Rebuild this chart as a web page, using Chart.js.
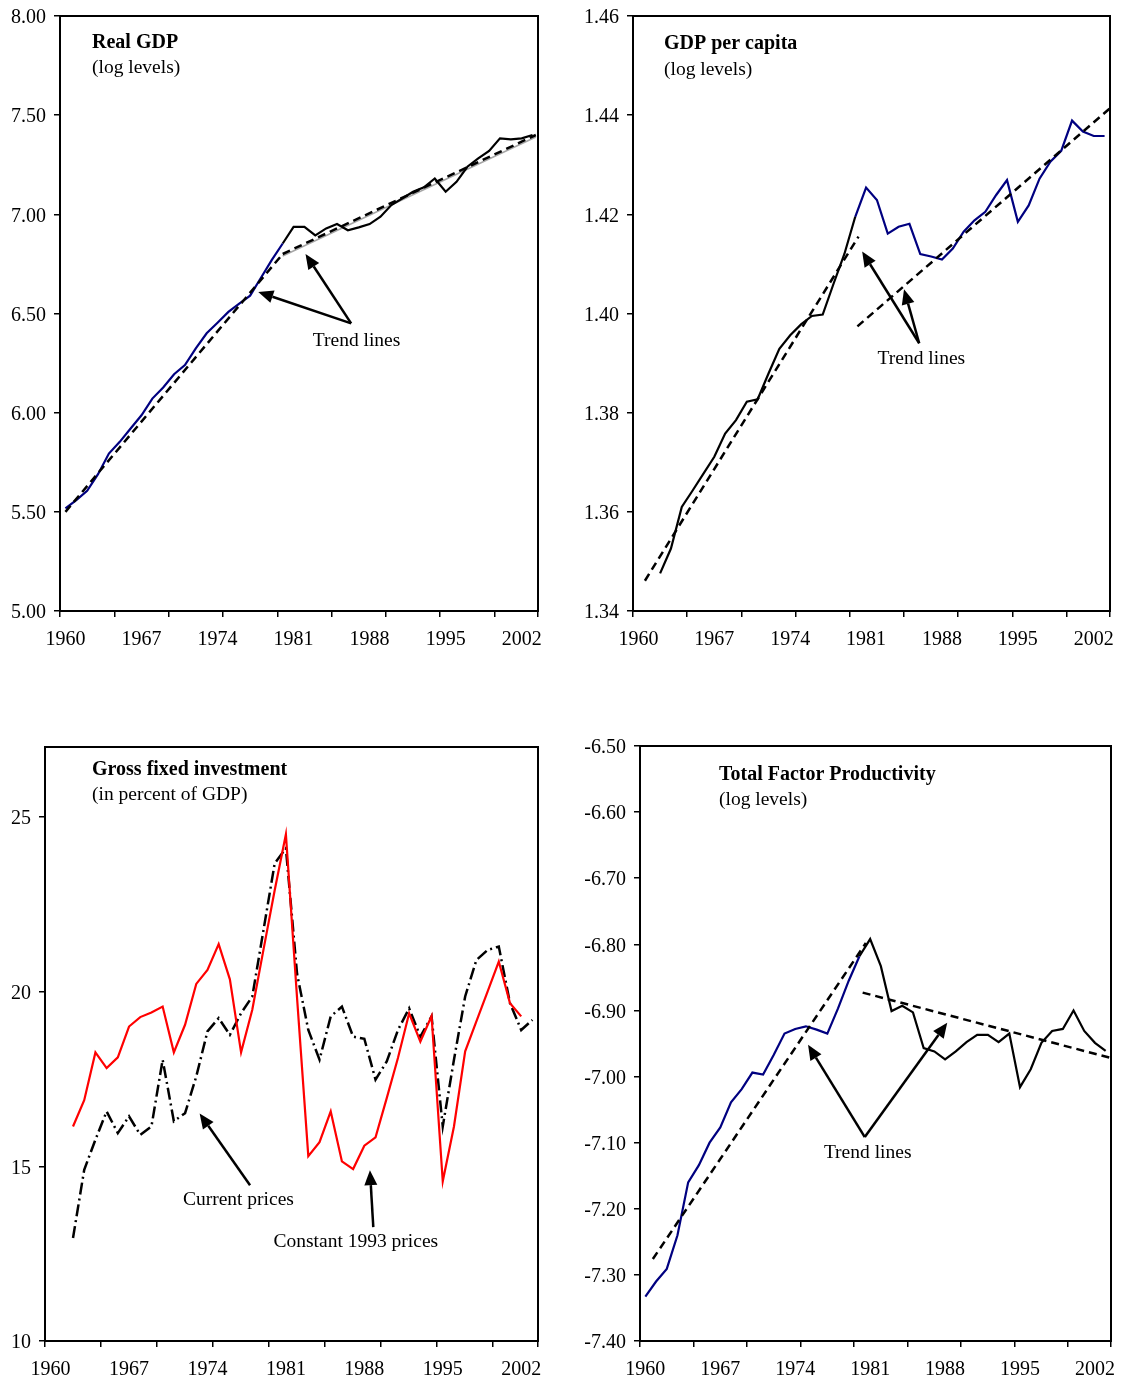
<!DOCTYPE html>
<html>
<head>
    <meta charset="UTF-8">
    <title>Growth, investment and productivity</title>
    <script src="https://cdn.jsdelivr.net/npm/chart.js@4.4.1/dist/chart.umd.min.js"></script>
    <style>
        body { margin: 0; background: #fff; }
        .panel { position: absolute; }
    </style>
</head>
<body>
<div class="panel" style="left:0;top:-4px"><canvas id="gdpChart" width="550" height="684"></canvas></div>
<div class="panel" style="left:570px;top:-4px"><canvas id="perCapitaChart" width="552" height="684"></canvas></div>
<div class="panel" style="left:0;top:700px"><canvas id="investChart" width="550" height="685"></canvas></div>
<div class="panel" style="left:570px;top:700px"><canvas id="tfpChart" width="552" height="685"></canvas></div>

<script>
    // Years on the horizontal axis and the years that carry a label
    const years = [1960, 1961, 1962, 1963, 1964, 1965, 1966, 1967, 1968, 1969,
        1970, 1971, 1972, 1973, 1974, 1975, 1976, 1977, 1978, 1979,
        1980, 1981, 1982, 1983, 1984, 1985, 1986, 1987, 1988, 1989,
        1990, 1991, 1992, 1993, 1994, 1995, 1996, 1997, 1998, 1999,
        2000, 2001, 2002, 2003];
    const xLabelYears = [1960, 1967, 1974, 1981, 1988, 1995, 2002];
    const breakYear = 1980;

    // Real GDP (log levels)
    const realGdp = [5.517, 5.559, 5.606, 5.69, 5.794, 5.853, 5.92, 5.987, 6.071, 6.127,
        6.194, 6.24, 6.324, 6.40, 6.453, 6.508, 6.55, 6.59, 6.68, 6.77,
        6.853, 6.937, 6.937, 6.894, 6.929, 6.951, 6.92, 6.934, 6.951, 6.988,
        7.047, 7.08, 7.114, 7.136, 7.181, 7.114, 7.164, 7.24, 7.282, 7.32,
        7.383, 7.378, 7.383, 7.40];
    const gdpTrendYears1 = [1960, 1980];
    const gdpTrend1 = [5.50, 6.80];
    const gdpTrendYears2 = [1980, 2003.3];
    const gdpTrend2 = [6.80, 7.40];
    const gdpFitYears = [1980, 2003.3];
    const gdpFit = [6.79, 7.39];
    const gdpTicks = [5.00, 5.50, 6.00, 6.50, 7.00, 7.50, 8.00];

    // GDP per capita (log levels)
    const gdpPerCapita = [null, null, 1.3476, 1.3526, 1.3610, 1.3643, 1.3677, 1.3711, 1.3758, 1.3785,
        1.3822, 1.3827, 1.3879, 1.3929, 1.3956, 1.3978, 1.3995, 1.3998, 1.406, 1.412,
        1.4195, 1.4254, 1.4229, 1.4161, 1.4175, 1.4181, 1.4120, 1.4115, 1.4109, 1.4131,
        1.4165, 1.4188, 1.4205, 1.4239, 1.4269, 1.4185, 1.4218, 1.4272, 1.4306, 1.4328,
        1.4389, 1.4367, 1.4358, 1.4358];
    const pcTrendYears1 = [1960.6, 1980.3];
    const pcTrend1 = [1.3461, 1.4155];
    const pcTrendYears2 = [1980.2, 2003.5];
    const pcTrend2 = [1.3974, 1.4414];
    const pcTicks = [1.34, 1.36, 1.38, 1.40, 1.42, 1.44, 1.46];

    // Gross fixed investment (in percent of GDP)
    const investConstant = [null, null, 16.14, 16.89, 18.26, 17.81, 18.12, 19.0, 19.27, 19.40,
        19.57, 18.26, 19.05, 20.22, 20.62, 21.36, 20.35, 18.26, 19.48, 21.2,
        22.9, 24.5, 19.8, 15.29, 15.69, 16.57, 15.14, 14.92, 15.59, 15.83,
        16.95, 18.1, 19.38, 18.57, 19.30, 14.57, 16.14, 18.29, 19.15, 20.0,
        20.86, 19.67, 19.29, null];
    const investCurrent = [null, null, 12.95, 14.9, 15.76, 16.57, 15.95, 16.43, 15.90, 16.14,
        18.05, 16.29, 16.52, 17.57, 18.86, 19.24, 18.76, 19.38, 19.86, 21.76,
        23.67, 24.1, 20.5, 18.9, 18.05, 19.29, 19.57, 18.71, 18.65, 17.48,
        18.0, 18.9, 19.52, 18.71, 19.29, 16.14, 18.05, 19.86, 20.9, 21.19,
        21.29, 19.67, 18.9, 19.19];
    const investTicks = [10, 15, 20, 25];

    // Total factor productivity (log levels)
    const tfp = [-7.333, -7.310, -7.291, -7.240, -7.160, -7.134, -7.100, -7.077, -7.039, -7.019,
        -6.994, -6.997, -6.967, -6.935, -6.928, -6.924, -6.929, -6.935, -6.897, -6.855,
        -6.818, -6.792, -6.833, -6.901, -6.893, -6.903, -6.957, -6.962, -6.974, -6.962,
        -6.948, -6.937, -6.937, -6.948, -6.935, -7.016, -6.989, -6.949, -6.931, -6.928,
        -6.900, -6.931, -6.949, -6.961];
    const tfpTrendYears1 = [1960.7, 1980.6];
    const tfpTrend1 = [-7.276, -6.798];
    const tfpTrendYears2 = [1980.3, 2003.5];
    const tfpTrend2 = [-6.873, -6.972];
    const tfpTicks = [-7.40, -7.30, -7.20, -7.10, -7.00, -6.90, -6.80, -6.70, -6.60, -6.50];

    const BLUE = '#000080';
    const RED = '#ff0000';
    const FONT = '"Liberation Serif", "Times New Roman", serif';
    const TEXT_SHIFT = 2; // middle baseline sits a little high in this font

    Chart.defaults.font.family = FONT;
    Chart.defaults.font.size = 20;
    Chart.defaults.color = '#000';

    // tick marks sit on the category boundaries every five years
    const xMarks = [];
    for (let b = years[0] - 0.5; b <= years[years.length - 1] + 0.5; b += 5) xMarks.push(b);
    xMarks.push(years[years.length - 1] + 0.5);

    function points(xs, ys, from, to) {
        const out = [];
        xs.forEach((x, i) => {
            if (ys[i] === null) return;
            if (from !== undefined && (x < from || x > to)) return;
            out.push({ x: x, y: ys[i] });
        });
        return out;
    }

    function line(data, color, extra) {
        return Object.assign({
            data: data, borderColor: color, borderWidth: 2.2,
            pointRadius: 0, tension: 0, fill: false
        }, extra || {});
    }

    function drawArrow(ctx, x1, y1, x2, y2) {
        const ang = Math.atan2(y2 - y1, x2 - x1);
        const len = 15, half = 6.5;
        const bx = x2 - len * Math.cos(ang), by = y2 - len * Math.sin(ang);
        ctx.lineWidth = 2.5;
        ctx.beginPath();
        ctx.moveTo(x1, y1);
        ctx.lineTo(bx, by);
        ctx.stroke();
        ctx.beginPath();
        ctx.moveTo(x2, y2);
        ctx.lineTo(bx + half * Math.sin(ang), by - half * Math.cos(ang));
        ctx.lineTo(bx - half * Math.sin(ang), by + half * Math.cos(ang));
        ctx.closePath();
        ctx.fill();
    }

    // frame, panel title and the arrow notes
    function panelDecor(note) {
        return {
            id: 'panelDecor',
            afterDraw(chart) {
                const ctx = chart.ctx, a = chart.chartArea;
                const sx = chart.scales.x, sy = chart.scales.y;
                ctx.save();
                ctx.strokeStyle = '#000';
                ctx.fillStyle = '#000';
                ctx.lineWidth = 2;
                ctx.strokeRect(a.left, a.top, a.right - a.left, a.bottom - a.top);

                ctx.textBaseline = 'middle';
                ctx.textAlign = 'left';
                ctx.font = 'bold 20px ' + FONT;
                ctx.fillText(note.title, a.left + note.dx, a.top + note.dy + TEXT_SHIFT);
                ctx.font = '19.5px ' + FONT;
                ctx.fillText(note.subtitle, a.left + note.dx, a.top + note.subDy + TEXT_SHIFT);

                ctx.textAlign = 'center';
                note.labels.forEach(l => {
                    ctx.fillText(l.text, sx.getPixelForValue(l.at[0]), sy.getPixelForValue(l.at[1]) + TEXT_SHIFT);
                });
                note.arrows.forEach(ar => {
                    drawArrow(ctx,
                        sx.getPixelForValue(ar.from[0]), sy.getPixelForValue(ar.from[1]),
                        sx.getPixelForValue(ar.to[0]), sy.getPixelForValue(ar.to[1]));
                });
                ctx.restore();
            }
        };
    }

    function buildChart(id, cfg) {
        return new Chart(document.getElementById(id), {
            type: 'line',
            data: { datasets: cfg.datasets },
            options: {
                responsive: false,
                animation: false,
                events: [],
                layout: { padding: { left: 0, top: cfg.top, right: cfg.right, bottom: 0 } },
                plugins: { legend: { display: false }, tooltip: { enabled: false } },
                scales: {
                    x: {
                        type: 'linear',
                        min: years[0] - 0.5,
                        max: years[years.length - 1] + 0.5,
                        afterBuildTicks: s => {
                            s.ticks = xMarks.concat(xLabelYears).sort((p, q) => p - q).map(v => ({ value: v }));
                        },
                        afterFit: s => { s.height = cfg.xHeight; },
                        border: { display: false },
                        grid: {
                            drawOnChartArea: false,
                            tickLength: 6,
                            lineWidth: 1.5,
                            tickColor: c => (c.tick && Number.isInteger(c.tick.value)) ? 'rgba(0,0,0,0)' : '#000'
                        },
                        ticks: {
                            autoSkip: false,
                            maxRotation: 0,
                            padding: 11,
                            callback: v => Number.isInteger(v) ? String(v) : ''
                        }
                    },
                    y: {
                        type: 'linear',
                        min: cfg.yTicks[0],
                        max: cfg.yMax,
                        afterBuildTicks: s => { s.ticks = cfg.yTicks.map(v => ({ value: v })); },
                        afterFit: s => { s.width = cfg.yWidth; },
                        border: { display: false },
                        grid: { drawOnChartArea: false, tickLength: 6, lineWidth: 1.5, tickColor: '#000' },
                        ticks: { padding: 8, labelOffset: TEXT_SHIFT, callback: v => v.toFixed(cfg.digits) }
                    }
                }
            },
            plugins: [panelDecor(cfg.note)]
        });
    }

    const dashed = { borderDash: [8, 5], borderWidth: 2.5, borderColor: '#000' };

    buildChart('gdpChart', {
        top: 20, right: 12, xHeight: 69, yWidth: 60,
        yTicks: gdpTicks, yMax: 8, digits: 2,
        datasets: [
            line(points(gdpTrendYears1, gdpTrend1), '#000', dashed),
            line(points(gdpTrendYears2, gdpTrend2), '#000', dashed),
            line(points(years, realGdp, 1960, breakYear), BLUE),
            line(points(years, realGdp, breakYear, 2003), '#000'),
            line(points(gdpFitYears, gdpFit), '#a6a6a6', { borderWidth: 1.5 })
        ],
        note: {
            title: 'Real GDP', subtitle: '(log levels)', dx: 32, dy: 25, subDy: 50,
            labels: [{ text: 'Trend lines', at: [1986.8, 6.371] }],
            arrows: [
                { from: [1986.3, 6.45], to: [1977.75, 6.609] },
                { from: [1986.3, 6.45], to: [1982.1, 6.80] }
            ]
        }
    });

    buildChart('perCapitaChart', {
        top: 20, right: 12, xHeight: 69, yWidth: 63,
        yTicks: pcTicks, yMax: 1.46, digits: 2,
        datasets: [
            line(points(pcTrendYears1, pcTrend1), '#000', dashed),
            line(points(pcTrendYears2, pcTrend2), '#000', dashed),
            line(points(years, gdpPerCapita, 1960, breakYear), '#000'),
            line(points(years, gdpPerCapita, breakYear, 2003), BLUE)
        ],
        note: {
            title: 'GDP per capita', subtitle: '(log levels)', dx: 31, dy: 26, subDy: 52,
            labels: [{ text: 'Trend lines', at: [1986.1, 1.3912] }],
            arrows: [
                { from: [1985.9, 1.394], to: [1980.64, 1.4125] },
                { from: [1985.9, 1.394], to: [1984.5, 1.4049] }
            ]
        }
    });

    buildChart('investChart', {
        top: 47, right: 12, xHeight: 44, yWidth: 45,
        yTicks: investTicks, yMax: 27, digits: 0,
        datasets: [
            line(points(years, investConstant), RED),
            line(points(years, investCurrent), '#000', { borderDash: [12, 4, 2, 4], borderWidth: 2.5 })
        ],
        note: {
            title: 'Gross fixed investment', subtitle: '(in percent of GDP)', dx: 47, dy: 21, subDy: 46,
            labels: [
                { text: 'Current prices', at: [1976.76, 14.11] },
                { text: 'Constant 1993 prices', at: [1987.24, 12.886] }
            ],
            arrows: [
                { from: [1977.8, 14.46], to: [1973.3, 16.51] },
                { from: [1988.8, 13.26], to: [1988.5, 14.89] }
            ]
        }
    });

    buildChart('tfpChart', {
        top: 46, right: 10, xHeight: 44, yWidth: 70,
        yTicks: tfpTicks, yMax: -6.5, digits: 2,
        datasets: [
            line(points(tfpTrendYears1, tfpTrend1), '#000', dashed),
            line(points(tfpTrendYears2, tfpTrend2), '#000', dashed),
            line(points(years, tfp, 1960, breakYear), BLUE),
            line(points(years, tfp, breakYear, 2003), '#000')
        ],
        note: {
            title: 'Total Factor Productivity', subtitle: '(log levels)', dx: 79, dy: 27, subDy: 52,
            labels: [{ text: 'Trend lines', at: [1980.77, -7.1127] }],
            arrows: [
                { from: [1980.5, -7.0915], to: [1975.2, -6.952] },
                { from: [1980.5, -7.0915], to: [1988.2, -6.9186] }
            ]
        }
    });
</script>
</body>
</html>
